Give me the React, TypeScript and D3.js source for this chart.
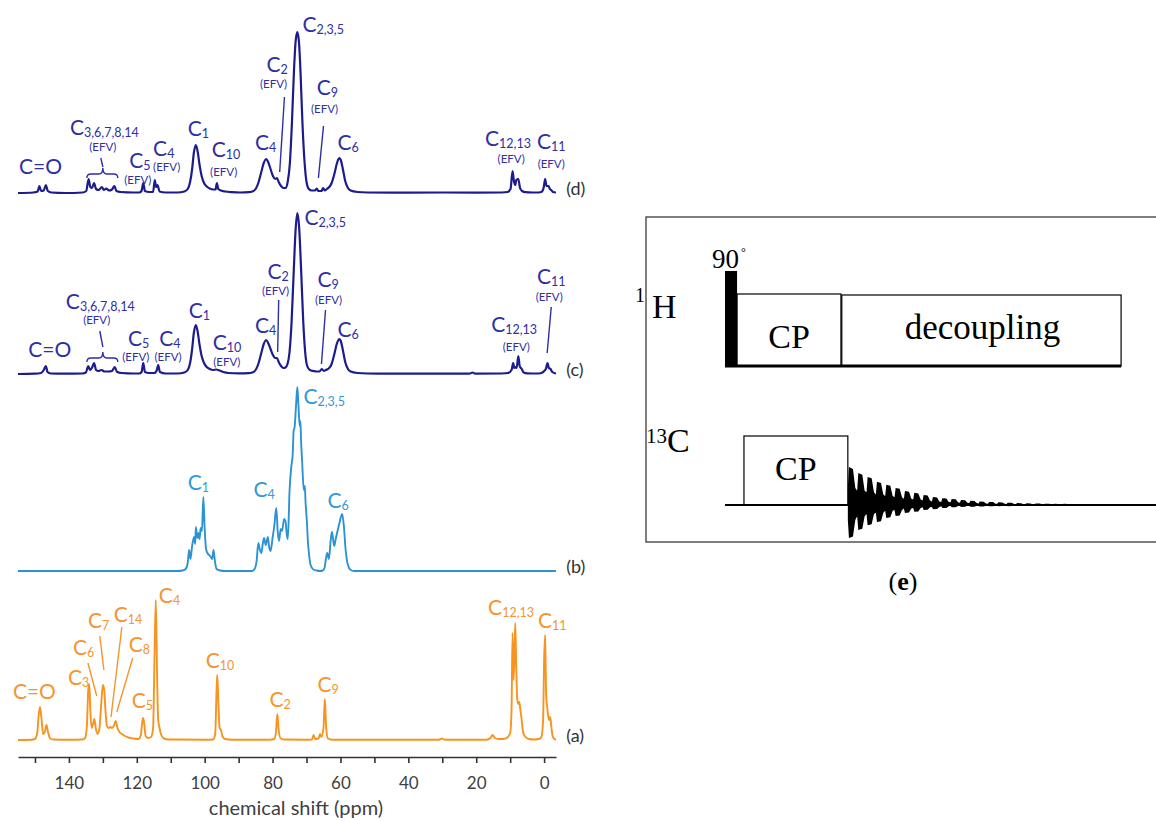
import React, { useEffect, useRef } from 'react';
import * as d3 from 'd3';

type Pt = [number, number];
type Lab = { t: string; s?: string; ppm: number; h: number; efv?: [number, number] };

// spectra, [ppm, intensity]
const specD: Pt[] = [
  [155, 0], [150.5, 0.5], [149.2, 1.5], [148.7, 7], [148.2, 2], [147.4, 2.5], [146.8, 8], [146.2, 2], [145.2, 0.5], [141, 0],
  [136, 0.5], [134.9, 2], [134.2, 14], [133.7, 6], [133.2, 5], [132.6, 10], [132, 4], [131.2, 3], [130.3, 6], [129.7, 3], [129, 4.5], [128.2, 2.5], [127.3, 3.5], [126.6, 7], [126, 2], [124.8, 1], [121, 0.5],
  [119.3, 0.5], [118.6, 2], [118.1, 10], [117.6, 2], [116.4, 1], [115.2, 1], [114.7, 13], [114.3, 6], [113.9, 8], [113.3, 1.5], [111.5, 0.5],
  [108, 0.5], [106, 1.5], [105, 4], [104.3, 11], [103.7, 24], [103.2, 40], [102.6, 48], [102.1, 42], [101.5, 28], [100.9, 17], [100.2, 10], [99.4, 6.5], [98.5, 4.5], [97.5, 3.5], [96.8, 3.5], [96.4, 10], [96, 4], [95.2, 2.5], [94, 1.5], [92, 0.8], [89.5, 0.5],
  [87, 0.8], [86, 1.5], [85, 4], [84.2, 10], [83.4, 20], [82.6, 30], [81.9, 34], [81.3, 31], [80.6, 24], [79.9, 17], [79.2, 14], [78.7, 15], [78.2, 11], [77.5, 7], [76.8, 5], [76.2, 5],
  [75.5, 12], [74.9, 30], [74.3, 70], [73.7, 122], [73.2, 152], [72.7, 161], [72.2, 150], [71.7, 115], [71.2, 70], [70.6, 32], [70, 11], [69.3, 4], [68.5, 2.5], [67.5, 2.5], [67, 4.5], [66.5, 2], [65.6, 2], [65.1, 5], [64.6, 2.5], [64, 4],
  [63.3, 6], [62.6, 10], [61.8, 19], [61.1, 29], [60.6, 34], [60.3, 35], [59.9, 33], [59.3, 24], [58.6, 12], [57.8, 5], [57, 2.5], [55, 1], [52, 0.5], [45, 0.3], [30, 0.5], [20, 0.3], [12.5, 0.5],
  [10.8, 1], [9.9, 4], [9.3, 22], [8.9, 12], [8.5, 8], [8.2, 13], [7.6, 14], [7.1, 5], [6.5, 2], [5.5, 0.8], [3.5, 0.5],
  [1.6, 0.5], [0.6, 1.5], [0.1, 6], [-0.3, 14], [-0.7, 7], [-1.3, 7], [-1.7, 4], [-2.1, 3], [-2.6, 1], [-3.5, 0.5],
];

const specC: Pt[] = [
  [155, 0], [150, 0.3], [148.2, 1], [147.4, 4], [146.8, 8], [146.3, 2], [145.4, 0.5], [141, 0.3],
  [136, 0.5], [135, 1.5], [134.3, 8], [133.8, 4], [133.1, 7], [132.6, 11], [132, 4], [131.3, 3], [130.4, 4], [129.5, 2.5], [128.4, 2.5], [127.3, 3], [126.5, 7], [125.8, 2], [124.5, 1], [121, 0.5],
  [119.3, 0.5], [118.6, 2], [118.1, 11], [117.6, 2], [116.4, 1], [114.8, 1], [114.1, 4], [113.7, 9], [113.2, 2], [111.5, 0.5],
  [108, 0.5], [106, 1.5], [105, 4], [104.3, 11], [103.7, 25], [103.2, 41], [102.6, 49], [102.1, 43], [101.5, 29], [100.9, 18], [100.2, 11], [99.4, 7], [98.5, 5], [97.5, 4], [96.6, 4.5], [95.6, 3.5], [94.5, 2], [93, 1], [90, 0.6],
  [87, 0.8], [86, 1.5], [85, 4], [84.2, 10], [83.4, 20], [82.6, 30], [81.9, 34], [81.3, 31], [80.6, 25], [79.9, 19], [79.2, 16], [78.7, 16], [78.2, 12], [77.5, 8], [76.8, 6], [76.2, 6.5],
  [75.6, 10], [75, 22], [74.4, 52], [73.8, 100], [73.2, 145], [72.7, 161], [72.2, 148], [71.6, 105], [71, 55], [70.4, 22], [69.8, 8], [69, 4], [68, 3], [67, 2.5], [66.2, 2.5], [65.5, 5], [64.9, 3], [64.3, 4],
  [63.5, 5.5], [62.6, 10], [61.8, 20], [61.1, 30], [60.6, 34], [60.3, 35], [59.9, 33], [59.3, 24], [58.6, 12], [57.8, 5], [57, 2.5], [55, 1], [52, 0.5], [40, 0.3], [22, 0.3], [21.1, 1.5], [20.3, 0.3], [12.5, 0.5],
  [10.6, 1], [9.6, 4], [9.1, 11], [8.8, 6], [8.5, 7], [8.1, 6], [7.6, 18], [7.2, 8], [6.6, 5], [6, 1.5], [5, 0.6], [3.5, 0.5],
  [1.6, 0.5], [0.5, 1.5], [0, 3], [-0.5, 5], [-1, 11], [-1.4, 6], [-1.9, 5], [-2.4, 2], [-3.5, 0.5],
];

const specB: Pt[] = [
  [155, 0], [108, 0], [106.5, 0.5], [105.6, 2], [105, 8], [104.6, 21], [104.2, 12], [103.7, 25], [103.1, 34], [102.8, 27], [102.6, 44], [102.2, 33], [101.9, 38], [101.5, 32], [101.2, 43], [100.8, 40], [100.4, 74], [100, 42], [99.6, 22], [99.2, 18], [98.7, 16], [98.2, 14], [97.8, 12], [97.4, 21], [97, 10], [96.5, 2], [95.5, 0.5], [94, 0],
  [86, 0], [85.3, 2], [84.7, 10], [84.2, 28], [83.8, 22], [83.3, 18], [82.9, 27], [82.5, 33], [82, 26], [81.4, 34], [81, 24], [80.6, 20], [80, 33], [79.5, 45], [78.9, 63], [78.5, 40], [78.1, 30], [77.6, 42], [77.2, 40], [76.6, 52], [76.2, 50], [75.8, 36], [75.5, 32],
  [75, 80], [74.5, 104], [74.1, 115], [73.8, 140], [73.5, 144], [73.1, 165], [72.7, 184], [72.3, 160], [72, 145], [71.8, 150], [71.6, 130], [71.3, 110], [70.8, 81], [70.5, 85], [70.3, 70], [69.9, 50], [69.6, 30], [69.2, 15], [68.8, 6], [68, 1.5], [67, 0.5], [66, 0],
  [65.2, 0.5], [64.7, 3], [64.2, 14], [63.9, 18], [63.4, 12], [62.9, 30], [62.5, 39], [62.1, 30], [61.8, 25], [61.4, 32], [61, 38], [60.3, 48], [59.5, 57], [59, 45], [58.5, 22], [57.8, 6], [57, 1], [56, 0], [-3.5, 0],
];

const specA: Pt[] = [
  [155, 0], [151, 0.3], [150, 1], [149.3, 8], [148.9, 25], [148.5, 33], [148.1, 22], [147.6, 6], [147.1, 8], [146.6, 15], [146.1, 7], [145.5, 1.5], [144.5, 0.5], [140, 0.3],
  [136, 0.5], [135.2, 2], [134.7, 15], [134.3, 50], [134, 56], [133.7, 30], [133.3, 12], [132.9, 16], [132.5, 21], [132.1, 12], [131.6, 6], [131, 12], [130.5, 35], [130, 55], [129.6, 50], [129.2, 28], [128.8, 14], [128.3, 12], [127.8, 13], [127.3, 12], [126.8, 14], [126.2, 19], [125.7, 12], [125.1, 8], [124.4, 6], [123.5, 4], [122.5, 2.5], [121, 1.5],
  [119.5, 1], [118.8, 5], [118.4, 18], [118.1, 22], [117.8, 16], [117.4, 4], [116.7, 2], [115.8, 3], [115.2, 12], [114.8, 80], [114.4, 140], [114, 60], [113.7, 20], [113.3, 12], [112.8, 5], [112, 1.5], [110.5, 0.5], [100, 0.3],
  [97.5, 0.5], [96.9, 6], [96.5, 50], [96.3, 65], [96, 40], [95.6, 12], [95.2, 10], [94.8, 4], [94, 1], [92, 0.3],
  [81, 0.3], [79.5, 1], [79, 8], [78.6, 26], [78.2, 10], [77.6, 1.5], [76.5, 0.5], [70, 0.3],
  [68.4, 0.5], [67.9, 5], [67.5, 1], [66.5, 1.5], [66, 6], [65.6, 3], [65, 12], [64.6, 41], [64.2, 12], [63.7, 1.5], [62.5, 0.3],
  [31, 0.3], [30.2, 1.5], [29.5, 0.5], [28, 0.3], [17, 0.3], [15.8, 2], [15.2, 5], [14.5, 2], [13.5, 1], [12, 1],
  [10.8, 2.5], [10, 7], [9.6, 30], [9.3, 107], [9, 60], [8.7, 90], [8.5, 117], [8.2, 70], [7.9, 40], [7.6, 36], [7.3, 38], [7, 30], [6.6, 20], [6.2, 8], [5.5, 3], [4.5, 1], [3, 0.5],
  [1.5, 1], [0.8, 3], [0.3, 20], [0, 80], [-0.3, 105], [-0.6, 45], [-0.9, 33], [-1.2, 24], [-1.5, 20], [-1.8, 23], [-2.1, 14], [-2.5, 4], [-3, 1], [-3.5, 0.3],
];

// peak assignments (anchor in ppm / intensity units)
const labelsD: Lab[] = [
  { t: 'C=O', ppm: 154.7, h: 19 },
  { t: 'C', s: '3,6,7,8,14', ppm: 139.7, h: 58, efv: [130, 42] },
  { t: 'C', s: '5', ppm: 122.2, h: 25, efv: [119.7, 9] },
  { t: 'C', s: '4', ppm: 115.2, h: 37, efv: [111.2, 22] },
  { t: 'C', s: '1', ppm: 105, h: 57 },
  { t: 'C', s: '10', ppm: 97.9, h: 36, efv: [94.4, 17] },
  { t: 'C', s: '4', ppm: 85.2, h: 43 },
  { t: 'C', s: '2', ppm: 81.8, h: 121, efv: [79.7, 105] },
  { t: 'C', s: '2,3,5', ppm: 71.2, h: 161 },
  { t: 'C', s: '9', ppm: 67, h: 98, efv: [64.7, 80] },
  { t: 'C', s: '6', ppm: 60.9, h: 43 },
  { t: 'C', s: '12,13', ppm: 17.4, h: 47, efv: [9.7, 30] },
  { t: 'C', s: '11', ppm: 2.1, h: 44, efv: [-2.1, 25] },
];
const leadersD: number[][] = [[130.6, 35, 130, 26], [76.5, 96, 77.9, 21], [65, 67, 66.5, 15]];
const braceD = [134.7, 125.6, 130, 15, 25];

const labelsC: Lab[] = [
  { t: 'C=O', ppm: 152, h: 17 },
  { t: 'C', s: '3,6,7,8,14', ppm: 140.9, h: 65, efv: [131.8, 50] },
  { t: 'C', s: '5', ppm: 122.6, h: 28, efv: [120.3, 13] },
  { t: 'C', s: '4', ppm: 113.4, h: 28, efv: [110.8, 13] },
  { t: 'C', s: '1', ppm: 104.7, h: 56 },
  { t: 'C', s: '10', ppm: 97.6, h: 24, efv: [93.5, 8] },
  { t: 'C', s: '4', ppm: 85.2, h: 41 },
  { t: 'C', s: '2', ppm: 81.5, h: 95, efv: [79.1, 79] },
  { t: 'C', s: '2,3,5', ppm: 70.6, h: 149 },
  { t: 'C', s: '9', ppm: 66.8, h: 87, efv: [63.5, 70] },
  { t: 'C', s: '6', ppm: 60.9, h: 37 },
  { t: 'C', s: '12,13', ppm: 15.6, h: 42, efv: [8.2, 23] },
  { t: 'C', s: '11', ppm: 2.1, h: 90, efv: [-1.5, 73] },
];
const leadersC: number[][] = [[130.9, 43, 130, 27], [78.2, 74, 78.5, 22], [64.4, 64, 65.6, 10], [-2.1, 67, -0.9, 21]];
const braceC = [134.7, 125.6, 130, 12, 22];

const labelsB: Lab[] = [
  { t: 'C', s: '1', ppm: 105, h: 81 },
  { t: 'C', s: '4', ppm: 85.6, h: 74 },
  { t: 'C', s: '2,3,5', ppm: 70.9, h: 167 },
  { t: 'C', s: '6', ppm: 63.8, h: 63 },
];

const labelsA: Lab[] = [
  { t: 'C=O', ppm: 156.5, h: 41 },
  { t: 'C', s: '3', ppm: 140.3, h: 55 },
  { t: 'C', s: '6', ppm: 138.8, h: 85 },
  { t: 'C', s: '7', ppm: 134.4, h: 112 },
  { t: 'C', s: '14', ppm: 126.8, h: 118 },
  { t: 'C', s: '8', ppm: 122.4, h: 88 },
  { t: 'C', s: '5', ppm: 121.5, h: 32 },
  { t: 'C', s: '4', ppm: 113.5, h: 137 },
  { t: 'C', s: '10', ppm: 99.7, h: 72 },
  { t: 'C', s: '2', ppm: 80.9, h: 33 },
  { t: 'C', s: '9', ppm: 66.8, h: 48 },
  { t: 'C', s: '12,13', ppm: 16.5, h: 125 },
  { t: 'C', s: '11', ppm: 1.8, h: 112 },
];
const leadersA: number[][] = [[134.4, 77, 131.8, 44], [130.9, 104, 129.7, 70], [124.4, 113, 127.6, 23], [121.2, 82, 125.9, 28]];

const tickValues = [150, 140, 130, 120, 110, 100, 90, 80, 70, 60, 50, 40, 30, 20, 10, 0];
const tickLabels = [140, 120, 100, 80, 60, 40, 20, 0];

// pulse sequence (e), time in arbitrary units
const seqH = [
  { name: '90', start: 0, end: 2.8 },
  { name: 'CP', start: 2.8, end: 26.9 },
  { name: 'decoupling', start: 27.1, end: 91.9 },
];
const seqC = [{ name: 'CP', start: 4.4, end: 28.5 }];
const fidStart = 28.5;
const fidUp = [1, 0.84, 0.74, 0.61, 0.53, 0.45, 0.37, 0.32, 0.26, 0.21, 0.18, 0.16, 0.13, 0.11, 0.09, 0.08, 0.07, 0.06, 0.05, 0.045, 0.04, 0.035, 0.03, 0.03, 0.025, 0.025, 0.02, 0.02, 0.02, 0.02, 0.02, 0.02, 0.02];
const fidDown = [0.87, 0.66, 0.53, 0.45, 0.34, 0.29, 0.21, 0.18, 0.13, 0.11, 0.08, 0.06, 0.05, 0.045, 0.04, 0.035, 0.03, 0.03, 0.025, 0.025, 0.02, 0.02, 0.02, 0.02, 0.02, 0.02, 0.02, 0.02, 0.02, 0.02, 0.02, 0.02, 0.02];

const W = 1156;
const H = 821;
const SANS = 'Lato, "Open Sans", sans-serif';
const SERIF = '"Liberation Serif", "DejaVu Serif", serif';

const x = d3.scaleLinear().domain([155, -3.5]).range([18, 556]);
const amp = d3.scaleLinear().domain([0, 100]).range([0, 100]);

const panels = [
  { id: '(d)', base: 193, data: specD, labels: labelsD, leaders: leadersD, brace: braceD, line: '#1c1c8c', text: '#2e2ea6', width: 2.2 },
  { id: '(c)', base: 374, data: specC, labels: labelsC, leaders: leadersC, brace: braceC, line: '#1c1c8c', text: '#2e2ea6', width: 2.2 },
  { id: '(b)', base: 571, data: specB, labels: labelsB, leaders: [], brace: null, line: '#2b93d3', text: '#3399d8', width: 1.9 },
  { id: '(a)', base: 740, data: specA, labels: labelsA, leaders: leadersA, brace: null, line: '#f7931e', text: '#f5952b', width: 1.9 },
];

const Spectrum = ({ p }: { p: any }) => {
  const y = (v: number) => p.base - amp(v);
  const line = d3.line<Pt>().x(d => x(d[0])).y(d => y(d[1])).curve(d3.curveMonotoneX);
  let brace = null;
  if (p.brace) {
    const [a, b, m, yb, yt] = p.brace;
    const x1 = x(a), x2 = x(b), xm = x(m), y1 = y(yb), y2 = y(yt);
    const ym = (y1 + y2) / 2 + 1;
    brace = `M${x1},${y1} Q${x1},${ym} ${x1 + 4},${ym} L${xm - 4},${ym} Q${xm},${ym} ${xm},${y2} Q${xm},${ym} ${xm + 4},${ym} L${x2 - 4},${ym} Q${x2},${ym} ${x2},${y1}`;
  }
  return (
    <g>
      <path d={line(p.data) || ''} fill="none" stroke={p.line} strokeWidth={p.width} strokeLinejoin="round" />
      {p.labels.map((l: Lab, i: number) => (
        <g key={i} fill={p.text} fontFamily={SANS}>
          <text x={x(l.ppm)} y={y(l.h)} fontSize={21}>
            {l.t}
            {l.s && <tspan fontSize={12.5} dy={1.5}>{l.s}</tspan>}
          </text>
          {l.efv && (
            <text x={x(l.efv[0])} y={y(l.efv[1])} fontSize={11.5} textAnchor="middle">(EFV)</text>
          )}
        </g>
      ))}
      {p.leaders.map((d: number[], i: number) => (
        <line key={i} x1={x(d[0])} y1={y(d[1])} x2={x(d[2])} y2={y(d[3])} stroke={p.text} strokeWidth={1.4} />
      ))}
      {brace && <path d={brace} fill="none" stroke={p.text} strokeWidth={1.4} />}
      <text x={x(-6.5)} y={p.base + 2} fontFamily={SANS} fontSize={18} fill="#333">{p.id}</text>
    </g>
  );
};

const PulseSequence = () => {
  const t = d3.scaleLinear().domain([0, 100]).range([725, 1156]);
  const hBase = 366, hTop = 294, pulseTop = 271;
  const cBase = 505, cTop = 436;
  const fidAmp = d3.scaleLinear().domain([0, 1]).range([0, 38]);
  const band = d3.scaleBand<number>().domain(d3.range(fidUp.length)).range([t(fidStart), t(100)]);
  const bw = band.bandwidth();
  const pts: { x: number; up: number; dn: number }[] = [];
  fidUp.forEach((u, i) => {
    const x0 = band(i) as number;
    const dn = fidDown[i];
    pts.push({ x: x0, up: u * 0.45, dn: dn * 0.45 });
    pts.push({ x: x0 + bw * 0.12, up: u, dn });
    pts.push({ x: x0 + bw * 0.55, up: u * 0.95, dn: dn * 0.95 });
    pts.push({ x: x0 + bw * 0.8, up: u * 0.45, dn: dn * 0.45 });
  });
  const area = d3.area<{ x: number; up: number; dn: number }>()
    .x(d => d.x)
    .y0(d => cBase + fidAmp(d.dn))
    .y1(d => cBase - fidAmp(d.up));
  const [p90, cpH, dec] = seqH;
  const cpC = seqC[0];
  return (
    <g>
      <rect x={646} y={217} width={530} height={325} fill="none" stroke="#3a3a3a" strokeWidth={1.3} />
      <text x={645} y={302} fontFamily={SERIF} fontSize={20} textAnchor="end">1</text>
      <text x={652} y={318} fontFamily={SERIF} fontSize={34}>H</text>
      <text x={667} y={443} fontFamily={SERIF} fontSize={21} textAnchor="end">13</text>
      <text x={667} y={452} fontFamily={SERIF} fontSize={34}>C</text>

      <rect x={t(p90.start)} y={pulseTop} width={t(p90.end) - t(p90.start)} height={hBase - pulseTop} fill="#000" />
      <text x={712} y={268} fontFamily={SERIF} fontSize={27}>{p90.name}</text>
      <text x={741} y={256} fontFamily={SERIF} fontSize={12}>°</text>
      <rect x={t(cpH.start)} y={hTop} width={t(cpH.end) - t(cpH.start)} height={hBase - hTop} fill="none" stroke="#000" strokeWidth={1.2} />
      <text x={t((cpH.start + cpH.end) / 2)} y={348} fontFamily={SERIF} fontSize={34} textAnchor="middle">{cpH.name}</text>
      <rect x={t(dec.start)} y={hTop + 1} width={t(dec.end) - t(dec.start)} height={hBase - hTop - 1} fill="none" stroke="#000" strokeWidth={1.2} />
      <text x={t((dec.start + dec.end) / 2) + 1} y={339} fontFamily={SERIF} fontSize={35} textAnchor="middle">{dec.name}</text>
      <line x1={t(0)} x2={t(dec.end)} y1={hBase} y2={hBase} stroke="#000" strokeWidth={3} />

      <line x1={t(0)} x2={t(100)} y1={cBase} y2={cBase} stroke="#000" strokeWidth={2} />
      <rect x={t(cpC.start)} y={cTop} width={t(cpC.end) - t(cpC.start)} height={cBase - cTop} fill="none" stroke="#000" strokeWidth={1.2} />
      <text x={t((cpC.start + cpC.end) / 2)} y={480} fontFamily={SERIF} fontSize={34} textAnchor="middle">{cpC.name}</text>
      <path d={area(pts) || ''} fill="#000" />

      <text x={903} y={590} fontFamily={SERIF} fontSize={26} textAnchor="middle">
        (<tspan fontWeight="bold">e</tspan>)
      </text>
    </g>
  );
};

export default function App() {
  const axisRef = useRef<SVGGElement>(null);

  useEffect(() => {
    const g = d3.select(axisRef.current);
    g.selectAll('*').remove();
    const axis = d3.axisBottom(x)
      .tickValues(tickValues)
      .tickFormat(d => (tickLabels.includes(+d) ? String(d) : ''))
      .tickSize(6)
      .tickSizeOuter(0)
      .tickPadding(14);
    g.call(axis as any);
    g.select('.domain').attr('stroke', '#333').attr('stroke-width', 1.6);
    g.selectAll('.tick line').attr('stroke', '#333').attr('stroke-width', 1.6);
    g.selectAll('.tick text').attr('font-family', SANS).attr('font-size', 17).attr('fill', '#404040');
  }, []);

  return (
    <svg width={W} height={H} style={{ position: 'absolute', left: 0, top: 0, background: '#fff' }}>
      <rect width={W} height={H} fill="#fff" />
      {panels.map(p => <Spectrum key={p.id} p={p} />)}
      <g ref={axisRef} transform="translate(0,757)" />
      <text x={296} y={815} textAnchor="middle" fontFamily={SANS} fontSize={20} fill="#404040">chemical shift (ppm)</text>
      <PulseSequence />
    </svg>
  );
}
